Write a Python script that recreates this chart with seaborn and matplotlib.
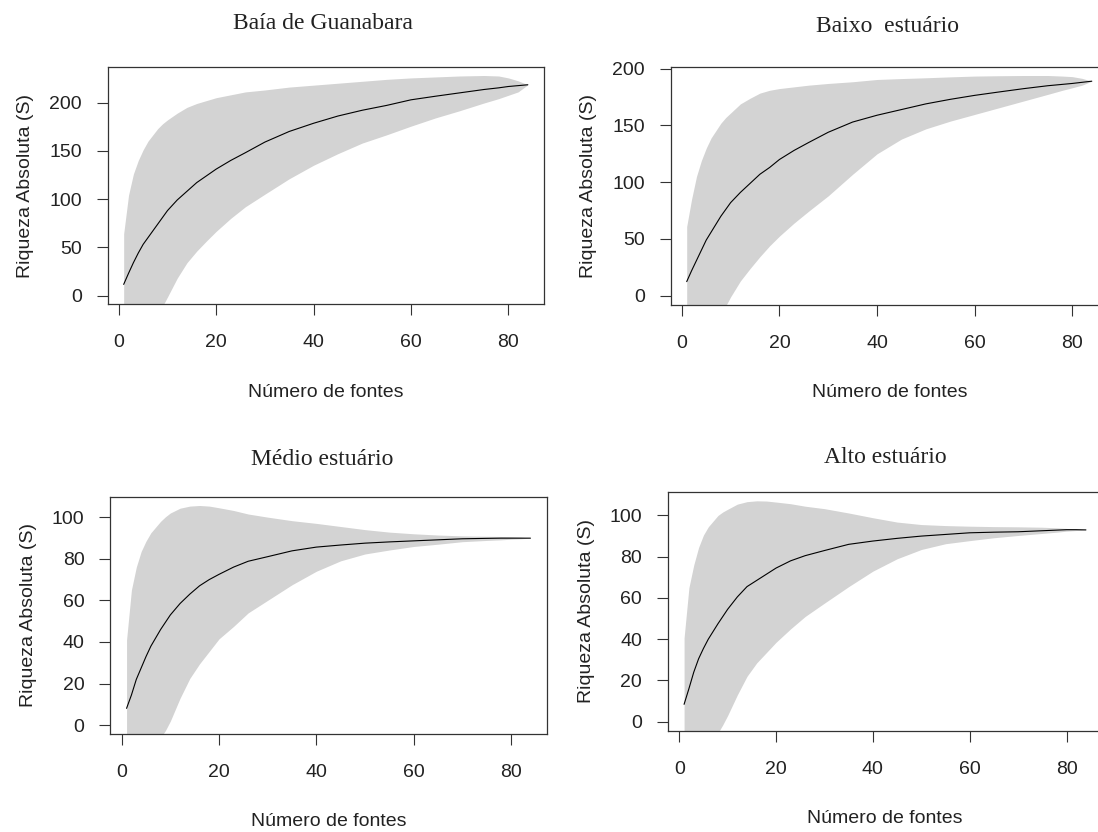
import matplotlib
matplotlib.use("Agg")
import matplotlib.pyplot as plt
import seaborn as sns

# ---------------- data ----------------
fontes = [1, 2, 3, 4, 5, 6, 8, 9, 10, 12, 14, 16, 18, 20, 23, 26, 30, 35,
          40, 45, 50, 55, 60, 65, 70, 75, 78, 80, 82, 84]

titulos = ["Baía de Guanabara", "Baixo  estuário", "Médio estuário", "Alto estuário"]

s_baia = [11.5, 23, 34, 44, 53, 60, 74, 81, 88, 99, 108, 117, 124, 131, 140, 148, 159, 170,
          178.5, 186, 192, 197, 202.8, 206.5, 210, 213.5, 215.2, 216.6, 217.5, 218.4]
hi_baia = [64, 104, 126, 140, 151, 160, 173, 178, 182, 189, 195, 199, 202, 205, 208, 211, 213, 216,
           218, 220, 222, 224, 225.5, 226.5, 227.5, 228, 227.5, 225.5, 222.5, 218.4]
lo_baia = [-40, -36, -32, -28, -25, -21, -15, -11, -1.5, 18, 34, 46, 56.5, 66.5, 80, 92, 105, 121,
           135, 147, 158, 166.5, 175.5, 184, 191.5, 199.5, 204, 207.5, 211, 218.4]

s_baixo = [12.4, 22, 31, 40, 49, 56, 70, 76, 82, 91, 99, 107, 113, 120, 128, 135, 144, 153,
           159, 164, 169, 173, 176.5, 179.5, 182.4, 185, 186.2, 187, 188, 189]
hi_baixo = [61, 85, 105, 119, 130, 139, 152, 157, 161, 169, 174, 178.5, 181, 182.5, 184, 185.5, 187, 188.5,
            190.5, 191.3, 192, 192.8, 193.5, 193.8, 194, 194, 193.5, 193, 191.5, 189]
lo_baixo = [-38, -34, -30, -26, -22, -19, -13, -9, -1, 13, 24, 34.4, 44, 52.5, 64, 74.5, 88, 107,
            125, 138, 147, 153.8, 159.7, 165.6, 171.5, 177.4, 181, 183.2, 185.5, 189]

s_medio = [8.1, 14.5, 22, 27.5, 33, 38, 46, 49.5, 53, 58.5, 63, 67, 70, 72.5, 76, 78.8, 81, 83.8,
           85.6, 86.6, 87.5, 88.1, 88.6, 89.1, 89.6, 89.8, 89.9, 89.9, 89.9, 89.9]
hi_medio = [41, 65, 76, 83.5, 88.5, 92.5, 98, 100.2, 102, 104.3, 105.3, 105.6, 105.3, 104.5, 103.2, 101.5, 100, 98.3,
            97, 95.5, 94, 92.8, 92, 91.4, 91, 90.8, 90.7, 90.6, 90.4, 89.9]
lo_medio = [-25, -22, -19, -16, -13, -10.5, -6, -2.5, 2, 13, 22.5, 29.5, 35.5, 41.5, 47.5, 54, 60, 67.5,
            74, 79, 82.3, 84.2, 85.9, 87, 88.2, 88.8, 89.1, 89.4, 89.6, 89.9]

s_alto = [8.4, 16, 24, 30.5, 35.5, 40, 47.5, 51, 54.5, 60.5, 65.5, 68.5, 71.5, 74.5, 78, 80.5, 83, 86,
          87.6, 88.9, 90, 90.8, 91.6, 91.9, 92.1, 92.6, 92.9, 93.1, 93.1, 93]
hi_alto = [40.6, 65, 76, 84.5, 90.5, 94.5, 100, 101.7, 103, 105.5, 106.7, 107.1, 107, 106.5, 105.7, 104.5, 103.3, 101.2,
           98.9, 96.8, 95.6, 95.1, 94.8, 94.6, 94.5, 94.3, 94, 93.7, 93.4, 93]
lo_alto = [-24, -21, -18, -15, -12.5, -10, -5.5, -1.5, 3, 13, 22, 28.5, 33.5, 38.5, 45, 51, 57.5, 65.5,
           73, 79, 83.5, 86.3, 87.8, 89.2, 90.3, 91.3, 91.9, 92.4, 92.7, 93]

x_ticks = [0, 20, 40, 60, 80]
y_ticks_big = [0, 50, 100, 150, 200]
y_ticks_small = [0, 20, 40, 60, 80, 100]

xlabel = "Número de fontes"
ylabel = "Riqueza Absoluta (S)"

# ---------------- style ----------------
sns.set_style("white")
plt.rcParams["font.family"] = ["Liberation Sans", "DejaVu Sans"]
TXT = "#222222"
EDGE = "#333333"

W, H = 1098, 832
fig = plt.figure(figsize=(W / 100, H / 100), dpi=100)

# panel boxes in pixels: left, right, top, bottom ; title (x, baseline)
panels = [
    dict(box=(107.5, 544.0, 66.7, 304.3), title=(323, 29.3), s=s_baia, lo=lo_baia, hi=hi_baia, yt=y_ticks_big),
    dict(box=(670.5, 1108.0, 66.7, 304.5), title=(887, 32.5), s=s_baixo, lo=lo_baixo, hi=hi_baixo, yt=y_ticks_big),
    dict(box=(110.4, 546.6, 496.7, 734.0), title=(322, 465.0), s=s_medio, lo=lo_medio, hi=hi_medio, yt=y_ticks_small),
    dict(box=(668.0, 1102.0, 492.0, 730.5), title=(885.8, 463.3), s=s_alto, lo=lo_alto, hi=hi_alto, yt=y_ticks_small),
]

for p, titulo in zip(panels, titulos):
    L, R, T, B = p["box"]
    w, h = R - L, B - T
    ax = fig.add_axes([L / W, 1 - B / H, w / W, h / H])
    ax.fill_between(fontes, p["lo"], p["hi"], color="#D3D3D3", linewidth=0, zorder=1)
    sns.lineplot(x=fontes, y=p["s"], ax=ax, color="black", linewidth=0.8, zorder=2)
    pad = 0.04 * (fontes[-1] - fontes[0])
    ax.set_xlim(fontes[0] - pad, fontes[-1] + pad)
    ymax = max(p["hi"])
    ax.set_ylim(-0.04 * ymax, 1.04 * ymax)
    ax.set_xticks(x_ticks)
    ax.set_yticks(p["yt"])
    ax.tick_params(axis="both", which="major", direction="out", length=8.1, width=0.8,
                   color=EDGE, labelsize=14, labelcolor=TXT,
                   bottom=True, left=True, top=False, right=False)
    ax.tick_params(axis="y", pad=10.5)
    ax.tick_params(axis="x", pad=13.5)
    for sp in ax.spines.values():
        sp.set_visible(True)
        sp.set_color(EDGE)
        sp.set_linewidth(0.9)
    ax.set_xlabel(xlabel, fontsize=14, color=TXT, va="baseline")
    ax.xaxis.set_label_coords(0.5, -92.5 / h)
    ax.set_ylabel(ylabel, fontsize=14, color=TXT, va="center")
    ax.yaxis.set_label_coords(-81.8 / w, 0.5)
    tx, tb = p["title"]
    ax.set_title(titulo, fontsize=17, family="Liberation Serif", color=TXT,
                 x=(tx - L) / w, y=1 + (T - tb) / h, pad=0, va="baseline")

fig.savefig("out.png", dpi=100)
